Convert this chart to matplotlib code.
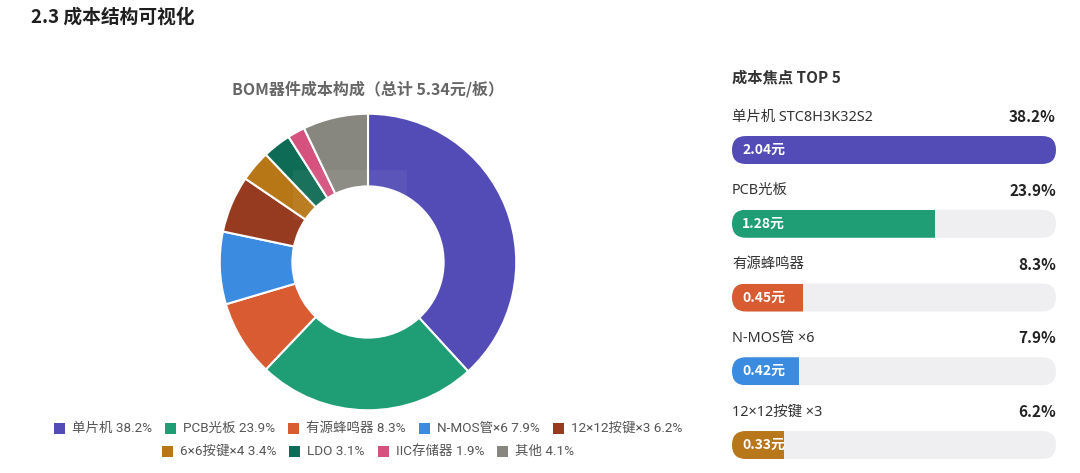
import matplotlib
matplotlib.use('Agg')
import matplotlib.pyplot as plt
from matplotlib.patches import FancyBboxPatch, Rectangle
from matplotlib.transforms import IdentityTransform

# ---------------- data ----------------
categories = ['单片机', 'PCB光板', '有源蜂鸣器', 'N-MOS管×6', '12×12按键×3',
              '6×6按键×4', 'LDO', 'IIC存储器', '其他']
slice_pct = [38.2, 23.9, 8.3, 7.9, 6.2, 3.4, 3.1, 1.9, 7.1]     # slice sizes as drawn
legend_pct = [38.2, 23.9, 8.3, 7.9, 6.2, 3.4, 3.1, 1.9, 4.1]    # percentages printed in legend
slice_colors = ['#534cb6', '#1f9e76', '#d95b31', '#3b8ce0', '#963b1f',
                '#b87717', '#0e6b55', '#d5527f', '#87877f']

top_labels = ['单片机 STC8H3K32S2', 'PCB光板', '有源蜂鸣器', 'N-MOS管 ×6', '12×12按键 ×3']
top_cost = [2.04, 1.28, 0.45, 0.42, 0.33]
top_pct = [38.2, 23.9, 8.3, 7.9, 6.2]
top_colors = ['#534cb6', '#1f9e76', '#d95b31', '#3b8ce0', '#b8771a']

main_title = '2.3 成本结构可视化'
chart_title = 'BOM器件成本构成（总计 5.34元/板）'
panel_title = '成本焦点 TOP 5'

# ---------------- figure ----------------
plt.rcParams['font.family'] = ['Noto Sans', 'Noto Sans CJK SC', 'DejaVu Sans']
BOLD_FONT = ['Noto Sans CJK SC', 'DejaVu Sans']
LEG_FONT = ['Roboto', 'Noto Sans CJK SC', 'DejaVu Sans']
W, H = 1080, 473
fig = plt.figure(figsize=(W / 100, H / 100), dpi=100)
fig.patch.set_facecolor('white')


def fx(px):
    return px / W


def fy(py):
    return 1 - py / H


fig.text(fx(31), fy(17), main_title, fontsize=13.5, fontweight='bold',
         color='#1f1f1f', va='center', ha='left', family=BOLD_FONT)

# ---------------- donut ----------------
cx, cy, R = 368, 262, 149
axp = fig.add_axes([fx(cx - R), fy(cy + R), 2 * R / W, 2 * R / H])
axp.pie(slice_pct, colors=slice_colors, startangle=90, counterclock=False,
        radius=1, wedgeprops=dict(width=0.49, edgecolor='white', linewidth=1.5))
axp.set_xlim(-1.005, 1.005)
axp.set_ylim(-1.005, 1.005)
axp.set_aspect('equal')
axp.axis('off')

fig.text(fx(cx), fy(89), chart_title, fontsize=11.5, fontweight='bold',
         color='#666666', ha='center', va='center', family=BOLD_FONT)

# faint tooltip ghost
fig.add_artist(Rectangle((fx(293), fy(220)), 114 / W, 50 / H, transform=fig.transFigure,
                         facecolor='white', alpha=0.05, edgecolor='none', zorder=5))

# ---------------- legend (two centered rows) ----------------
renderer = fig.canvas.get_renderer()
rows = [list(range(0, 5)), list(range(5, 9))]
row_y = [428, 451]
msz, mgap, igap = 11, 7, 13
for row, ypix in zip(rows, row_y):
    texts = []
    widths = []
    for k in row:
        t = fig.text(0, fy(ypix), f'{categories[k]} {legend_pct[k]}%', fontsize=9.7,
                     color='#555555', ha='left', va='center', family=LEG_FONT)
        widths.append(t.get_window_extent(renderer).width)
        texts.append(t)
    total = sum(msz + mgap + w for w in widths) + igap * (len(row) - 1)
    x = cx - total / 2
    for k, t, w in zip(row, texts, widths):
        fig.add_artist(Rectangle((fx(x), fy(ypix + msz / 2)), msz / W, msz / H,
                                 transform=fig.transFigure, facecolor=slice_colors[k],
                                 edgecolor='none'))
        t.set_x(fx(x + msz + mgap))
        x += msz + mgap + w + igap

# ---------------- right panel ----------------
fig.text(fx(732), fy(77), panel_title, fontsize=11, fontweight='bold',
         color='#333333', ha='left', va='center', family=BOLD_FONT)

row0, step = 150, 73.75
ytop_pix, ybot_pix = 100, 470
axb = fig.add_axes([fx(732), fy(ybot_pix), 324 / W, (ybot_pix - ytop_pix) / H])
cmax = max(top_cost)
axb.set_xlim(0, cmax)
axb.set_ylim((ybot_pix - row0) / step, (ytop_pix - row0) / step)
axb.axis('off')

bar_h = 28
bars = axb.barh(range(len(top_cost)), top_cost, height=bar_h / step,
                color=top_colors, zorder=2)
for i, bar in enumerate(bars):
    x0, yc = axb.transData.transform((0, i))
    x1, _ = axb.transData.transform((cmax, i))
    track = FancyBboxPatch((x0, yc - bar_h / 2), x1 - x0, bar_h,
                           boxstyle=f'round,pad=0,rounding_size={bar_h / 2}',
                           transform=IdentityTransform(), facecolor='#efeff2',
                           edgecolor='none', zorder=1)
    axb.add_patch(track)
    bar.set_clip_path(track)
    axb.annotate(f'{top_cost[i]:.2f}元', xy=(0, i), xytext=(10, 0),
                 textcoords='offset pixels', color='white', fontweight='bold',
                 fontsize=10, va='center', ha='left', zorder=3, family=BOLD_FONT)
    ylab = i - 33 / step
    axb.text(0, ylab, top_labels[i], fontsize=10.4, color='#333333',
             ha='left', va='center', clip_on=False)
    axb.text(cmax, ylab, f'{top_pct[i]}%', fontsize=11, fontweight='bold',
             color='#222222', ha='right', va='center', clip_on=False, family=BOLD_FONT)

fig.savefig('out.png', dpi=100, facecolor='white')
